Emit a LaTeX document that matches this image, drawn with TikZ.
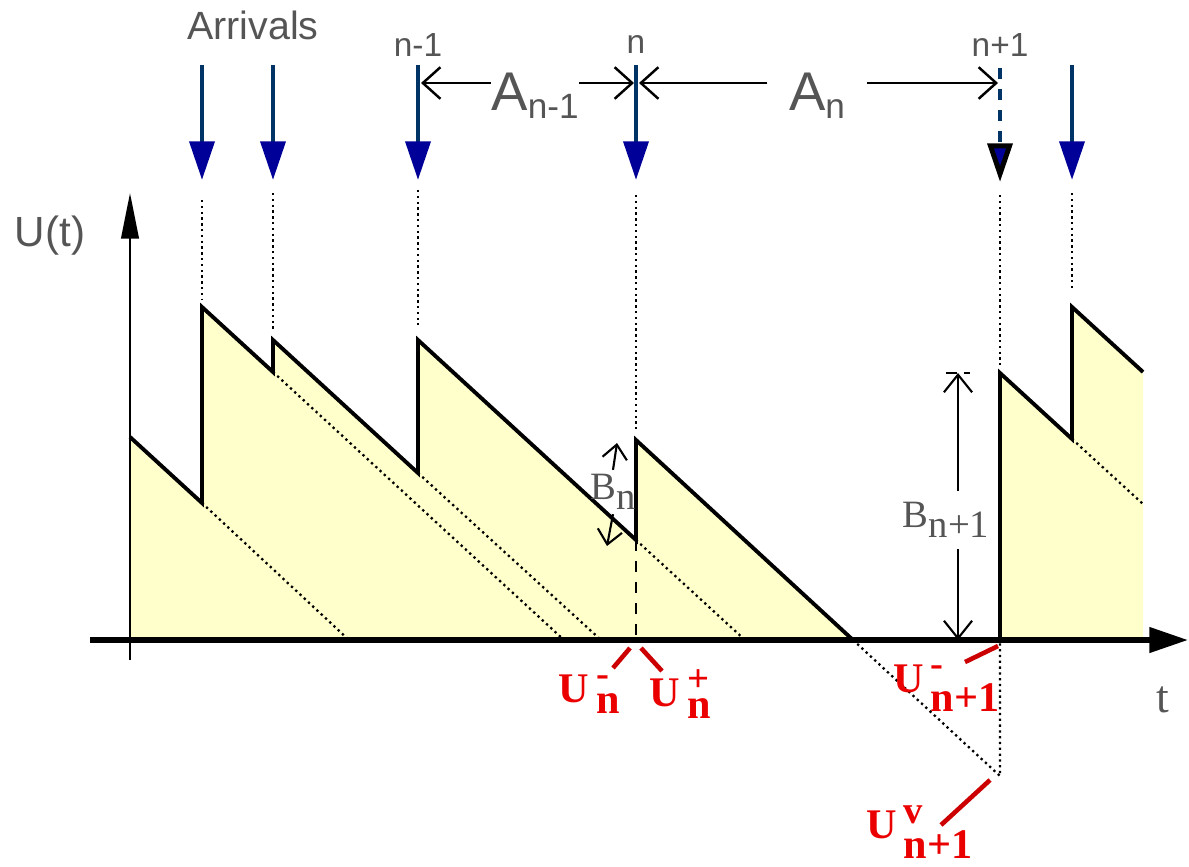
\documentclass[tikz,border=0pt]{standalone}
\usepackage{fontspec}
\setmainfont{Liberation Serif}
\setsansfont{Liberation Sans}
\usepackage{amsmath}
\usetikzlibrary{arrows.meta, positioning}
\definecolor{arrnavy}{RGB}{0, 51, 102}
\definecolor{arrblue}{RGB}{0, 0, 153}
\definecolor{workfill}{RGB}{255, 255, 204}
\definecolor{labgray}{RGB}{85, 85, 85}
\definecolor{leadred}{RGB}{204, 0, 0}
\definecolor{txtred}{RGB}{235, 0, 0}

\newcommand{\redU}[2]{$\text{U}\,^{\text{\fontsize{11}{11}\selectfont #1}}_{\text{\fontsize{12}{12}\selectfont #2}}$}
\newcommand{\bigsub}[2]{\fontsize{15.5}{17}\selectfont #1\fontsize{10}{11}\selectfont\raisebox{-2.5pt}{#2}}

\tikzset{
  arrival/.style={arrnavy, line width=1.4pt, -{Triangle[length=11pt,width=7pt,color=arrblue]}},
  guide/.style={densely dotted, line width=0.65pt},
  workline/.style={line width=1.1pt},
  dimarrow/.style={line width=0.7pt, -{Straight Barb[length=5pt,width=9pt]}},
  leader/.style={leadred, line width=1.3pt},
  graylab/.style={labgray, font=\sffamily\fontsize{9.5}{10}\selectfont},
  serlab/.style={labgray, font=\fontsize{11}{12}\selectfont, inner sep=1pt},
  redlab/.style={txtred, font=\bfseries\fontsize{12}{14}\selectfont, inner sep=0pt}
}

\begin{document}
\begin{tikzpicture}[x=0.01cm, y=-0.01cm]
\useasboundingbox (0,0) rectangle (1189,866);

% area under U(t)
\fill[workfill] (130,640) -- (130,437) -- (202,503) -- (202,307) -- (273,372) -- (273,340)
  -- (418,473) -- (418,340) -- (636,540) -- (636,440) -- (853,640) -- cycle;
\fill[workfill] (1000,640) -- (1000,373) -- (1072,439) -- (1072,307) -- (1143,372) -- (1143,640) -- cycle;

% remaining work of earlier customers
\draw[guide] (202,503) -- (349,640);
\draw[guide] (273,372) -- (564,640);
\draw[guide] (418,473) -- (601,640);
\draw[guide] (636,540) -- (745,640);
\draw[guide] (853,640) -- (1000,776) -- (1000,640);
\draw[guide] (1072,439) -- (1143,504);
\draw[dashed, line width=0.8pt] (636,540) -- (636,640);

% from arrivals down to the jumps
\foreach \x/\ytop/\ybot in {202/200/300, 273/193/330, 418/190/325, 636/195/430, 1000/195/365, 1072/193/290}
  \draw[guide] (\x,\ytop) -- (\x,\ybot);

\draw[workline] (130,437) -- (202,503) -- (202,307) -- (273,372) -- (273,340) -- (418,473)
  -- (418,340) -- (636,540) -- (636,440) -- (853,640);
\draw[workline] (1000,640) -- (1000,373) -- (1072,439) -- (1072,307) -- (1143,372);

% axes
\draw[line width=0.7pt, -{Triangle[length=13pt,width=5pt]}] (130,660) -- (130,193);
\draw[line width=1.6pt, -{Triangle[length=11pt,width=7pt]}] (90,640) -- (1188,640);
\node[labgray, font=\sffamily\fontsize{12}{13}\selectfont] (ulabel) at (50,236) {U(t)};
\node[labgray, font=\fontsize{13}{14}\selectfont] (tlabel) at (1163,700) {t};

% arrivals
\foreach \x in {202,273,418,636,1072}
  \draw[arrival] (\x,65) -- (\x,180);
\draw[arrival, dashed, -{Triangle[length=11pt,width=7pt,fill=arrblue,color=black]}] (1000,68) -- (1000,182);
\node[labgray, font=\sffamily\fontsize{11.2}{12}\selectfont] (arrivals) at (253,25) {Arrivals};
\node[graylab] (lprev) at (418,45) {n-1};
\node[graylab] (lcur) at (636,45) {n};
\node[graylab] (lnext) at (1000,45) {n+1};

% interarrival times
\coordinate (tickprev) at (421,83);
\coordinate (tickcur) at (634,83);
\coordinate (tickcurr) at (639,83);
\coordinate (ticknext) at (998,83);
\node[labgray, font=\sffamily, anchor=base, inner sep=0pt] (aprev) at (535,110) {\bigsub{A}{n-1}};
\node[labgray, font=\sffamily, anchor=base, inner xsep=6pt, inner ysep=0pt] (acur) at (817,110) {\bigsub{A}{n}};
\draw[dimarrow] (aprev.west |- tickprev) -- (tickprev);
\draw[dimarrow] (aprev.east |- tickcur) -- (tickcur);
\draw[dimarrow] (acur.west |- tickcurr) -- (tickcurr);
\draw[dimarrow] (acur.east |- ticknext) -- (ticknext);

% service times
\node[serlab] (bcur) at (613,492) {B\raisebox{-3pt}{n}};
\coordinate (bcurup) at (617,443);
\coordinate (bcurdown) at (607,546);
\draw[line width=0.6pt, -{Straight Barb[length=4pt,width=7pt]}] (bcur.north) -- (bcurup);
\draw[line width=0.6pt, -{Straight Barb[length=4pt,width=7pt]}] (bcur.south) -- (bcurdown);
\node[serlab, inner sep=3pt] (bnext) at (946,520) {B\raisebox{-3pt}{n+1}};
\coordinate (bnexttop) at (958,373);
\coordinate (bnextbot) at (958,640);
\draw[line width=0.6pt, -{Straight Barb[length=5pt,width=8pt]}] (bnext.north -| bnexttop) -- (bnexttop);
\draw[line width=0.6pt, -{Straight Barb[length=5pt,width=8pt]}] (bnext.south -| bnextbot) -- (bnextbot);
\draw[densely dashed, line width=0.6pt] (946,373) -- (970,373);

% workload just before / after arrivals
\node[redlab] (unminus) at (590,694) {\redU{-}{n}};
\node[redlab] (unplus) at (681,694) {\redU{+}{n}};
\node[redlab] (unextminus) at (947,688) {\redU{-}{n+1}};
\node[redlab] (unextv) at (920,832) {\redU{v}{n+1}};
\coordinate (pnminus) at (630,648);
\coordinate (qnminus) at (613,668);
\coordinate (pnplus) at (641,648);
\coordinate (qnplus) at (662,671);
\coordinate (pnext) at (998,646);
\coordinate (qnext) at (965,662);
\coordinate (pnextv) at (990,780);
\coordinate (qnextv) at (941,825);
\draw[leader] (qnminus) -- (pnminus);
\draw[leader] (qnplus) -- (pnplus);
\draw[leader] (qnext) -- (pnext);
\draw[leader] (qnextv) -- (pnextv);
\end{tikzpicture}
\end{document}
